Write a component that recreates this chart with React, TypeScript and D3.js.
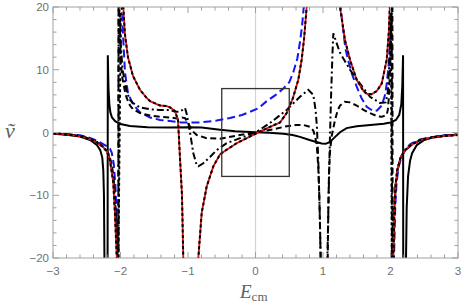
import React from 'react';
import * as d3 from 'd3';

type Pt = [number, number] | null;

// x domain / y domain and ticks
const xDomain = [-3, 3];
const yDomain = [-20, 20];
const xMajor = [-3, -2, -1, 0, 1, 2, 3];
const yMajor = [-20, -10, 0, 10, 20];

// red (with black dotted overlay)
const redCurve: Pt[] = [
  [-3, -0.15], [-2.8, -0.3], [-2.6, -0.6], [-2.45, -1.1], [-2.35, -1.6], [-2.26, -2.3], [-2.2, -3.0],
  [-2.156, -4.4], [-2.107, -8], [-2.08, -13.4], [-2.055, -20], [-2.05, -40],
  null,
  [-1.975, 40], [-1.959, 20], [-1.933, 15.5], [-1.889, 12], [-1.815, 9], [-1.711, 6.8], [-1.612, 5.5],
  [-1.563, 5], [-1.415, 4.3], [-1.316, 4.2], [-1.267, 4.0], [-1.193, 3.4], [-1.148, 2.0], [-1.119, -4],
  [-1.089, -10], [-1.07, -20], [-1.06, -30],
  null,
  [-0.86, -30], [-0.847, -20], [-0.797, -12.8], [-0.723, -8.6], [-0.625, -5.4], [-0.526, -3.5],
  [-0.477, -3.1], [-0.279, -1.7], [0.018, -0.1], [0.215, 0.9], [0.363, 1.6], [0.462, 3.1], [0.555, 5.5],
  [0.634, 8.4], [0.684, 11.6], [0.72, 15], [0.758, 20], [0.78, 40],
  null,
  [1.235, 40], [1.252, 20], [1.326, 14.7], [1.4, 11.6], [1.499, 8.4], [1.6, 6.6], [1.647, 6.2],
  [1.72, 6.1], [1.796, 6.6], [1.87, 7.8], [1.944, 11.6], [1.975, 16], [1.99, 20], [2.0, 40],
  null,
  [2.025, -40], [2.04, -20], [2.055, -13], [2.075, -8.5], [2.1, -6], [2.15, -4], [2.21, -2.9],
  [2.3, -2.0], [2.44, -1.2], [2.63, -0.8], [2.8, -0.55], [3, -0.4],
];

// blue long dashes
const blueCurve: Pt[] = [
  [-3, -0.1], [-2.8, -0.25], [-2.6, -0.45], [-2.45, -0.85], [-2.35, -1.3], [-2.25, -1.9], [-2.2, -2.2],
  [-2.156, -2.6], [-2.13, -3.2], [-2.1, -5], [-2.075, -8.5], [-2.055, -13.5], [-2.038, -20], [-2.033, -40],
  null,
  [-1.99, 40], [-1.978, 20], [-1.96, 15], [-1.933, 9.5], [-1.889, 6.3], [-1.815, 4.5], [-1.711, 3.2],
  [-1.563, 2.4], [-1.415, 2.0], [-1.1, 1.6], [-0.822, 1.6], [-0.575, 1.9], [-0.378, 2.3], [-0.2, 2.8],
  [-0.081, 3.3], [0.05, 3.9], [0.166, 5.0], [0.3, 6.0], [0.412, 7.0], [0.5, 8.0], [0.56, 9.6],
  [0.62, 11.8], [0.66, 14.5], [0.69, 17], [0.715, 20], [0.73, 40],
  null,
  [1.24, 40], [1.26, 20], [1.33, 13.5], [1.37, 11.6], [1.43, 9.3], [1.499, 7.3], [1.57, 5.5],
  [1.647, 4.1], [1.745, 3.4], [1.8, 3.5], [1.87, 4.3], [1.92, 6], [1.944, 7.8], [1.97, 10.5],
  [1.993, 14], [2.005, 20], [2.015, 40],
  null,
  [2.03, -40], [2.052, -20], [2.07, -12], [2.09, -8], [2.12, -5.5], [2.17, -3.6], [2.23, -2.5],
  [2.3, -1.8], [2.44, -1.1], [2.63, -0.7], [2.8, -0.45], [3, -0.3],
];

// black dashed
const dashCurve: Pt[] = [
  [-3, -0.15], [-2.8, -0.3], [-2.6, -0.55], [-2.45, -1.0], [-2.35, -1.5], [-2.25, -2.3], [-2.18, -3.3],
  [-2.13, -5], [-2.1, -7.5], [-2.08, -11], [-2.06, -16], [-2.045, -20], [-2.035, -60], [-2.025, 60],
  [-2.015, 20], [-2.0, 12], [-1.978, 9], [-1.933, 6.5], [-1.908, 5.5], [-1.859, 4.3], [-1.815, 3.7],
  [-1.711, 3.1], [-1.563, 2.7], [-1.415, 2.5], [-1.267, 2.4], [-1.15, 2.2], [-1.09, 2.4], [-1.044, 2.3],
  [-1.0, 1.6], [-0.97, 0.9], [-0.92, 0.1], [-0.871, -0.4], [-0.723, -0.9], [-0.526, -1.0], [-0.279, -0.5],
  [0, 0], [0.264, 0.5], [0.462, 1.0], [0.6, 1.2], [0.708, 1.2], [0.807, 0.9], [0.856, 0.3], [0.88, -0.5],
  [0.907, -2], [0.93, -5.5], [0.945, -10], [0.956, -15], [0.965, -20], [0.97, -40],
  null,
  [1.06, -40], [1.07, -20], [1.079, -12], [1.09, -6], [1.104, -3], [1.13, -0.5], [1.178, 2], [1.22, 3.6],
  [1.252, 4.3], [1.32, 4.9], [1.4, 4.8], [1.499, 4.3], [1.6, 3.6], [1.696, 3.1], [1.8, 2.6], [1.87, 2.5],
  [1.944, 2.8], [1.96, 3.6], [1.975, 5.5], [1.99, 9], [2.005, 14], [2.015, 20], [2.025, 60], [2.035, -60],
  [2.045, -20], [2.06, -12], [2.08, -8], [2.11, -5.5], [2.16, -3.8], [2.23, -2.7], [2.32, -1.9],
  [2.44, -1.2], [2.63, -0.75], [2.8, -0.5], [3, -0.35],
];

// black dash-dot
const dotDashCurve: Pt[] = [
  [-3, -0.15], [-2.8, -0.3], [-2.6, -0.55], [-2.45, -1.0], [-2.35, -1.5], [-2.25, -2.4], [-2.18, -3.5],
  [-2.13, -5.5], [-2.1, -8], [-2.075, -12], [-2.055, -17], [-2.045, -20], [-2.035, -60], [-2.025, 60],
  [-2.013, 20], [-1.995, 14], [-1.97, 10], [-1.933, 8], [-1.908, 6.5], [-1.859, 5.2], [-1.815, 4.7],
  [-1.711, 4.0], [-1.563, 3.7], [-1.415, 3.6], [-1.267, 3.6], [-1.19, 3.3], [-1.13, 3.3], [-1.08, 3.6],
  [-1.044, 3.9], [-1.02, 3.0], [-1.0, 1.8], [-0.97, 0], [-0.921, -3.3], [-0.871, -5.2], [-0.847, -5.4],
  [-0.773, -4.9], [-0.674, -3.9], [-0.575, -2.8], [-0.427, -1.7], [-0.181, -0.7], [0, 0], [0.215, 1.5],
  [0.462, 3.6], [0.659, 5.7], [0.782, 6.8], [0.856, 6.0], [0.89, 3.6], [0.91, 0.9], [0.93, -4.4],
  [0.95, -12], [0.965, -20], [0.975, -40],
  null,
  [1.055, -40], [1.065, -20], [1.08, -12], [1.1, -2], [1.12, 6], [1.14, 12.5], [1.153, 15.8], [1.178, 15],
  [1.252, 12.7], [1.4, 10], [1.548, 7.8], [1.696, 5.7], [1.844, 4.7], [1.93, 4.8], [1.96, 6.5],
  [1.975, 9.5], [1.99, 13], [2.005, 20], [2.015, 60], [2.025, -60], [2.038, -20], [2.05, -14], [2.07, -9],
  [2.1, -6], [2.15, -4], [2.22, -2.8], [2.32, -1.9], [2.44, -1.2], [2.63, -0.75], [2.8, -0.5], [3, -0.35],
];

// black solid
const solidCurve: Pt[] = [
  [-3, -0.2], [-2.8, -0.35], [-2.6, -0.65], [-2.45, -1.2], [-2.35, -2.0], [-2.3, -2.8], [-2.27, -4],
  [-2.255, -6], [-2.245, -10], [-2.238, -20], [-2.235, -60], [-2.195, -60], [-2.188, 12.3], [-2.178, 7],
  [-2.165, 4.5], [-2.15, 3.2], [-2.126, 2.4], [-2.08, 1.8], [-2.0, 1.35], [-1.86, 1.05], [-1.6, 0.85],
  [-1.3, 0.8], [-1.0, 0.85], [-0.8, 0.8], [-0.526, 0.45], [-0.3, 0.2], [0, 0.05], [0.2, -0.05],
  [0.412, -0.2], [0.55, -0.4], [0.659, -0.7], [0.8, -1.2], [0.9, -1.5], [0.98, -1.75], [1.04, -1.8],
  [1.104, -1.5], [1.18, -0.7], [1.252, 0.05], [1.35, 0.7], [1.5, 1.0], [1.7, 1.2], [1.9, 1.4], [2.0, 1.6],
  [2.08, 2.0], [2.13, 2.8], [2.16, 4.5], [2.175, 7.5], [2.186, 12.3], [2.192, -60], [2.222, -60],
  [2.23, -20], [2.24, -12], [2.26, -7], [2.29, -4.5], [2.32, -3.3], [2.39, -2.0], [2.5, -1.2],
  [2.63, -0.75], [2.8, -0.5], [3, -0.35],
];

// inset box
const boxX = [-0.5, 0.5];
const boxY = [-7, 7];

const W = 463;
const H = 305;
const frameCol = '#a0a0a0';
const labelCol = '#707070';

// the dotted overlay is joined straight through the poles near |E| = 2
const dottedCurve: Pt[] = redCurve.filter((d, i) => {
  if (d !== null) return true;
  const prev = redCurve[i - 1];
  return !(prev && Math.abs(Math.abs(prev[0]) - 2) < 0.1);
});

export default function App() {
  const left = 53, right = 458, top = 7, bottom = 258;
  const x = d3.scaleLinear().domain(xDomain).range([left, right]);
  const y = d3.scaleLinear().domain(yDomain).range([bottom, top]);

  const line = d3.line<Pt>()
    .defined(d => d !== null)
    .x(d => x((d as [number, number])[0]))
    .y(d => y((d as [number, number])[1]));

  const xMinor = d3.range(-3, 3.001, 0.2).filter(v => Math.abs(v - Math.round(v)) > 0.01);
  const yMinor = d3.range(-20, 20.001, 2).filter(v => Math.abs(v % 10) > 0.01);
  const fmt = (v: number) => (v < 0 ? '\u2212' + Math.abs(v) : String(v));

  return (
    <svg width={W} height={H} style={{ position: 'absolute', left: 0, top: 0, background: '#fff' }}>
      <defs>
        <clipPath id="plot">
          <rect x={left} y={top} width={right - left} height={bottom - top} />
        </clipPath>
      </defs>
      {/* zero lines */}
      <line x1={x(0)} x2={x(0)} y1={top} y2={bottom} stroke="#d4d4d4" strokeWidth={1.2} />
      <line x1={left} x2={right} y1={y(0)} y2={y(0)} stroke="#d4d4d4" strokeWidth={1.2} />

      <g clipPath="url(#plot)" fill="none">
        <path d={line(blueCurve) ?? ''} stroke="#1414f0" strokeWidth={2} strokeDasharray="8,4" />
        <path d={line(dashCurve) ?? ''} stroke="#000" strokeWidth={2} strokeDasharray="6,3.5" />
        <path d={line(dotDashCurve) ?? ''} stroke="#000" strokeWidth={2} strokeDasharray="7,3,2,3" />
        <path d={line(solidCurve) ?? ''} stroke="#000" strokeWidth={2} />
        <path d={line(redCurve) ?? ''} stroke="#e01010" strokeWidth={1.8} />
        <path d={line(dottedCurve) ?? ''} stroke="#000" strokeWidth={2} strokeDasharray="3,2.5" />
      </g>

      {/* inset box */}
      <rect x={x(boxX[0])} y={y(boxY[1])} width={x(boxX[1]) - x(boxX[0])} height={y(boxY[0]) - y(boxY[1])}
        fill="none" stroke="#333" strokeWidth={1.3} />

      {/* frame */}
      <rect x={left} y={top} width={right - left} height={bottom - top} fill="none" stroke={frameCol} strokeWidth={1} />
      <g stroke={frameCol} strokeWidth={1}>
        {xMajor.map(v => (
          <g key={'xm' + v}>
            <line x1={x(v)} x2={x(v)} y1={bottom} y2={bottom - 6} />
            <line x1={x(v)} x2={x(v)} y1={top} y2={top + 6} />
          </g>
        ))}
        {xMinor.map(v => (
          <g key={'xn' + v}>
            <line x1={x(v)} x2={x(v)} y1={bottom} y2={bottom - 3.5} />
            <line x1={x(v)} x2={x(v)} y1={top} y2={top + 3.5} />
          </g>
        ))}
        {yMajor.map(v => (
          <g key={'ym' + v}>
            <line x1={left} x2={left + 6} y1={y(v)} y2={y(v)} />
            <line x1={right} x2={right - 6} y1={y(v)} y2={y(v)} />
          </g>
        ))}
        {yMinor.map(v => (
          <g key={'yn' + v}>
            <line x1={left} x2={left + 3.5} y1={y(v)} y2={y(v)} />
            <line x1={right} x2={right - 3.5} y1={y(v)} y2={y(v)} />
          </g>
        ))}
      </g>

      <g fontFamily="Liberation Sans, Arial, sans-serif" fontSize={11.5} fill={labelCol}>
        {xMajor.map(v => (
          <text key={'xl' + v} x={x(v)} y={bottom + 17} textAnchor="middle">{fmt(v)}</text>
        ))}
        {yMajor.map(v => (
          <text key={'yl' + v} x={left - 4} y={y(v) + 4} textAnchor="end">{fmt(v)}</text>
        ))}
      </g>

      {/* axis labels */}
      <text x={10} y={138} fontFamily="Liberation Serif, Times New Roman, serif" fontStyle="italic" fontSize={22}
        fill="#606060" textAnchor="middle">ṽ</text>
      <text x={240} y={298} fontFamily="Liberation Serif, Times New Roman, serif" fill="#606060">
        <tspan fontStyle="italic" fontSize={19}>E</tspan>
        <tspan fontSize={13} dy={3}>cm</tspan>
      </text>
    </svg>
  );
}
